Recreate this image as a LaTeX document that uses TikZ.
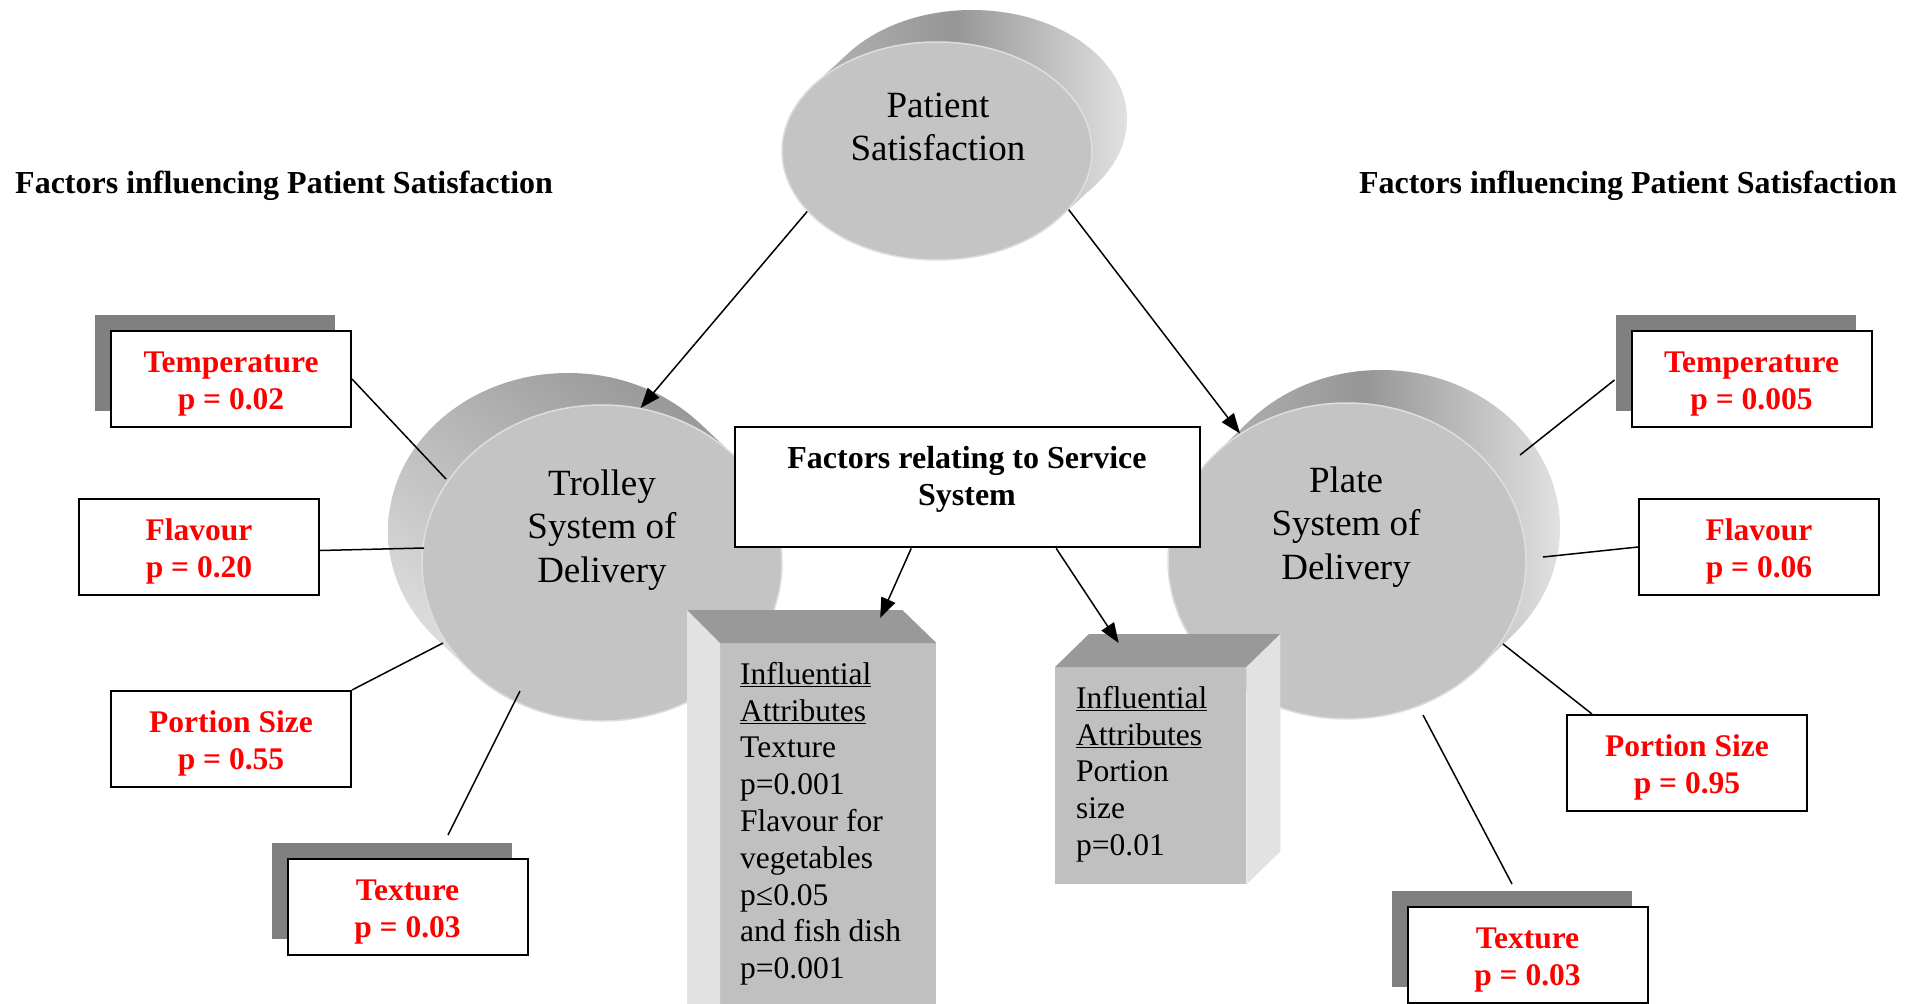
\documentclass[tikz,border=0pt]{standalone}
\usepackage{fontspec}
\setmainfont{Liberation Serif}
\usetikzlibrary{arrows.meta,shapes.geometric,shadows,calc}
\definecolor{lblred}{RGB}{255,0,0}
\definecolor{shadowgray}{RGB}{128,128,128}
\definecolor{frontgray}{RGB}{196,196,196}
\definecolor{rimgray}{RGB}{222,222,222}
\definecolor{boxfront}{RGB}{192,192,192}
\definecolor{boxtop}{RGB}{153,153,153}
\definecolor{boxside}{RGB}{226,226,226}
\definecolor{extdark}{RGB}{150,150,150}
\definecolor{extmid}{RGB}{185,185,185}
\definecolor{extlight}{RGB}{225,225,225}
\newcommand\lbltop{\rule{0pt}{31pt}}
% #1,#2 back centre; #3,#4 front centre; #5,#6 radii; #7,#8 tangent offset; #9 shading
\newcommand\extrude[9]{%
  \begin{scope}
    \clip (#1,#2) ellipse [x radius=#5, y radius=#6];
    \shade[#9] ({min(#1,#3)-#5},{min(#2,#4)-#6}) rectangle ({max(#1,#3)+#5},{max(#2,#4)+#6});
  \end{scope}
  \begin{scope}
    \clip ({#3+(#7)},{#4+(#8)}) -- ({#3-(#7)},{#4-(#8)}) -- ({#1-(#7)},{#2-(#8)}) -- ({#1+(#7)},{#2+(#8)}) -- cycle;
    \shade[#9] ({min(#1,#3)-#5},{min(#2,#4)-#6}) rectangle ({max(#1,#3)+#5},{max(#2,#4)+#6});
  \end{scope}}
\begin{document}
\begin{tikzpicture}[x=1pt,y=-1pt,
  lbl/.style={draw=black, line width=2pt, fill=white, minimum width=240pt, minimum height=96pt, inner sep=0pt, align=center, text=lblred, font=\fontsize{31.5}{37}\selectfont\bfseries},
  shd/.style={general shadow={fill=shadowgray, shadow xshift=-16pt, shadow yshift=16pt}},
  disc/.style={ellipse, inner sep=0pt, fill=frontgray, draw=rimgray, line width=1.5pt},
  disctxt/.style={align=center, inner sep=0pt, font=\fontsize{37}{43.5}\selectfont},
  boxtxt/.style={align=left, inner sep=0pt, anchor=north west, font=\fontsize{31.5}{36.8}\selectfont},
  head/.style={inner sep=0pt, font=\fontsize{32}{37}\selectfont\bfseries},
  conn/.style={line width=1.5pt},
  arr/.style={line width=1.5pt, -{Triangle[length=20pt,width=15pt]}},
]
\useasboundingbox (0,0) rectangle (1917,1004);
\fill[white] (0,0) rectangle (1917,1004);

% extrusions
\extrude{972}{119}{937}{151}{155}{109}{122.8}{66.5}{left color=extmid, right color=extlight, middle color=extdark}
\extrude{568}{531}{602}{563}{180}{158}{131.7}{-107.8}{top color=extdark, bottom color=extlight, shading angle=-35}
\extrude{1381}{528}{1347}{561}{179}{158}{132.4}{106.3}{left color=extmid, right color=extlight, middle color=extdark}

% front discs
\node[disc, minimum width=310pt, minimum height=218pt] (ps) at (937,151) {};
\node[disc, minimum width=360pt, minimum height=316pt] (tr) at (602,563) {};
\node[disc, minimum width=358pt, minimum height=316pt] (pl) at (1347,561) {};
\node[disctxt] (pst) at (938,127) {Patient\\Satisfaction};
\node[disctxt] (trt) at (602,530) {Trolley\\System of\\Delivery};
\node[disctxt] (plt) at (1346,527) {Plate\\System of\\Delivery};

% labels
\node[lbl,shd] (ltemp) at (231,379) {\lbltop Temperature\\p = 0.02};
\node[lbl] (lflav) at (199,546.5) {\lbltop Flavour\\p = 0.20};
\node[lbl] (lport) at (231,739) {\lbltop Portion Size\\p = 0.55};
\node[lbl,shd] (ltext) at (407.5,907) {\lbltop Texture\\p = 0.03};
\node[lbl,shd] (rtemp) at (1751.5,379) {\lbltop Temperature\\p = 0.005};
\node[lbl] (rflav) at (1759,547) {\lbltop Flavour\\p = 0.06};
\node[lbl] (rport) at (1687,763) {\lbltop Portion Size\\p = 0.95};
\node[lbl,shd] (rtext) at (1527.5,955) {\lbltop Texture\\p = 0.03};

% connector ends
\coordinate (trA) at (446,479);
\coordinate (trB) at (424,548);
\coordinate (trC) at (443,643);
\coordinate (trD) at (520,691);
\coordinate (ltextTop) at (448,835);
\coordinate (plA) at (1520,455);
\coordinate (plB) at (1543,557);
\coordinate (plC) at (1503,644);
\coordinate (plD) at (1423,715);
\coordinate (rtextTop) at (1512,884);

\draw[conn] (ltemp.east) -- (trA);
\draw[conn] ($(lflav.east)+(0,4)$) -- (trB);
\draw[conn] (lport.north east) -- (trC);
\draw[conn] (ltextTop) -- (trD);
\draw[conn] (plA) -- ($(rtemp.west)+(-16,1)$);
\draw[conn] (plB) -- (rflav.west);
\draw[conn] (plC) -- ($(rport.north west)+(26,0)$);
\draw[conn] (plD) -- (rtextTop);

% tall boxes
\node[fill=boxfront, inner sep=0pt, minimum width=216pt, minimum height=370pt, anchor=north west] (lbox) at (720,643) {};
\fill[boxtop] (lbox.north west) -- (lbox.north east) -- ++(-34,-33) -- ($(lbox.north west)+(-33,-33)$) -- cycle;
\fill[boxside] (lbox.north west) -- ++(-33,-33) -- ($(lbox.south west)+(-33,0)$) -- (lbox.south west) -- cycle;
\node[fill=boxfront, inner sep=0pt, minimum width=191pt, minimum height=217pt, anchor=north west] (rbox) at (1055,667) {};
\fill[boxtop] (rbox.north west) -- ++(34,-33) -- ($(rbox.north east)+(34,-33)$) -- (rbox.north east) -- cycle;
\fill[boxside] (rbox.north east) -- ++(34,-33) -- ($(rbox.south east)+(34,-33)$) -- (rbox.south east) -- cycle;
\node[boxtxt] (lboxt) at (740,662) {\underline{Influential}\\\underline{Attributes}\\Texture\\p=0.001\\Flavour for\\vegetables\\p≤0.05\\and fish dish\\p=0.001};
\node[boxtxt] (rboxt) at (1076,686) {\underline{Influential}\\\underline{Attributes}\\Portion\\size\\p=0.01};

% service box
\node[draw, line width=2pt, fill=white, minimum width=465pt, minimum height=120pt, inner sep=0pt] (fbox) at (967.2,487.4) {};
\node[head, align=center] (fboxt) at (967,479) {Factors relating to Service\\System};

% arrows
\draw[arr] (ps.205) -- (tr.76);
\draw[arr] (ps.-24) -- (pl.130);
\draw[arr] ($(fbox.south)+(-56,0)$) -- ($(lbox.north)+(52,-25)$);
\draw[arr] ($(fbox.south)+(89,0)$) -- ($(rbox.north)+(-32,-24)$);

% headings
\node[head, anchor=base west] (hl) at (15,193.5) {Factors influencing Patient Satisfaction};
\node[head, anchor=base east] (hr) at (1897,193.5) {Factors influencing Patient Satisfaction};
\end{tikzpicture}
\end{document}
